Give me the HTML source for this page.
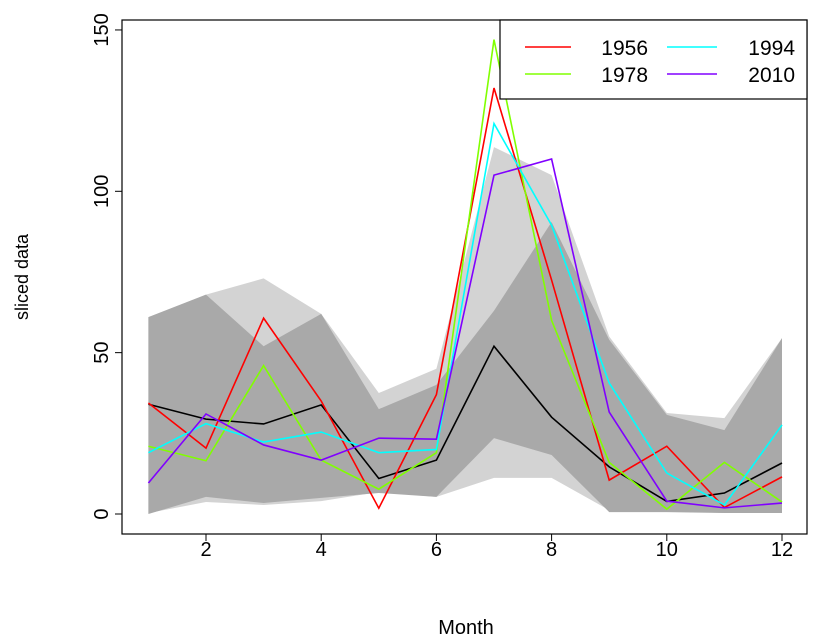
<!DOCTYPE html>
<html><head><meta charset="utf-8"><style>
body{margin:0;background:#fff;}
svg{display:block;font-family:"Liberation Sans",Arial,sans-serif;}
</style></head><body>
<svg id="chart" width="818" height="642" viewBox="0 0 818 642" xmlns="http://www.w3.org/2000/svg">
<g id="bands"></g>
<g id="lines"></g>
<g id="axes"></g>
<rect x="122" y="20" width="685" height="514" fill="none" stroke="#000" stroke-width="1.2"/>
<g>
<rect x="500" y="20" width="307" height="79" fill="#fff" stroke="#000" stroke-width="1.2"/>
<g id="legendItems"></g>
</g>
<text x="466" y="634" font-size="20" text-anchor="middle">Month</text>
<text transform="translate(28,277) rotate(-90)" font-size="18" text-anchor="middle">sliced data</text>
</svg>
<script>
const months=[1,2,3,4,5,6,7,8,9,10,11,12];
const xTicks=[2,4,6,8,10,12];
const yTicks=[0,50,100,150];
const seriesNames=["1956","1978","1994","2010"];
const seriesColors=["#ff0000","#80ff00","#00ffff","#8000ff"];
const s1956=[34.4,20.4,60.7,35,1.8,37,132,72.5,10.5,21,2,11.5];
const s1978=[21,16.5,46,16.7,7.7,19,147,60,16,1.5,16,3.7];
const s1994=[19,28,22.3,25.4,19,20,121,89.5,40.6,12.7,2.8,27.6];
const s2010=[9.6,31,21.4,16.7,23.5,23.2,105,110,31.6,4,1.9,3.4];
const median=[34,29.4,27.9,33.8,11,16.7,52,30,14.6,3.9,6.5,15.8];
const outerUpper=[61,68,73,62,37.5,45,113.7,105,55,31.3,29.7,54.5];
const outerLower=[0.3,3.7,2.8,4,6.8,5.3,11.2,11.2,1.2,1,0.3,0.3];
const innerUpper=[61,68,52,62,32.5,40,63,90.5,54,30.7,26,54.5];
const innerLower=[0,5.3,3.4,5,6.5,5.3,23.5,18.3,0.6,0.6,0.3,0.3];

const NS="http://www.w3.org/2000/svg";
const xs=m=>148.4+(m-1)*57.6;
const ys=v=>514-v*3.227;
function mk(tag,attrs,parent){const e=document.createElementNS(NS,tag);for(const k in attrs)e.setAttribute(k,attrs[k]);parent.appendChild(e);return e;}

const bands=document.getElementById('bands');
function band(up,lo,fill,name){
  let pts=months.map((m,i)=>xs(m)+","+ys(up[i]));
  pts=pts.concat(months.slice().reverse().map((m,j)=>{const i=months.length-1-j;return xs(m)+","+ys(lo[i]);}));
  const p=mk('polygon',{points:pts.join(" "),fill:fill,stroke:"none"},bands);
  
  
}
band(outerUpper,outerLower,"#d3d3d3","outer-band");
band(innerUpper,innerLower,"#a9a9a9","inner-band");

const lines=document.getElementById('lines');
function line(vals,color,name){
  const p=mk('polyline',{points:months.map((m,i)=>xs(m)+","+ys(vals[i])).join(" "),fill:"none",stroke:color,"stroke-width":1.6},lines);
  
  
}
line(median,"#000","median-line");
const allS=[s1956,s1978,s1994,s2010];
allS.forEach((s,i)=>line(s,seriesColors[i],"line-"+seriesNames[i]));

const axes=document.getElementById('axes');
xTicks.forEach(t=>{
  const l=mk('line',{x1:xs(t),x2:xs(t),y1:534,y2:541,stroke:"#000"},axes);
  
  
  const tx=mk('text',{x:xs(t),y:556,"font-size":20,"text-anchor":"middle"},axes);
  tx.textContent=t;
  
  
});
yTicks.forEach(t=>{
  const l=mk('line',{x1:115,x2:122,y1:ys(t),y2:ys(t),stroke:"#000"},axes);
  
  
  const tx=mk('text',{transform:"translate(108,"+ys(t)+") rotate(-90)","font-size":20,"text-anchor":"middle"},axes);
  tx.textContent=t;
  
  
});

const lg=document.getElementById('legendItems');
const pos=[[525,571,648,47],[525,571,648,74],[667,717,795,47],[667,717,795,74]];
seriesNames.forEach((n,i)=>{
  const p=pos[i];
  const l=mk('line',{x1:p[0],x2:p[1],y1:p[3],y2:p[3],stroke:seriesColors[i],"stroke-width":1.5},lg);
  
  
  const t=mk('text',{x:p[2],y:p[3]+8,"font-size":21,"text-anchor":"end"},lg);
  t.textContent=n;
  
  
});
</script>
</body></html>
